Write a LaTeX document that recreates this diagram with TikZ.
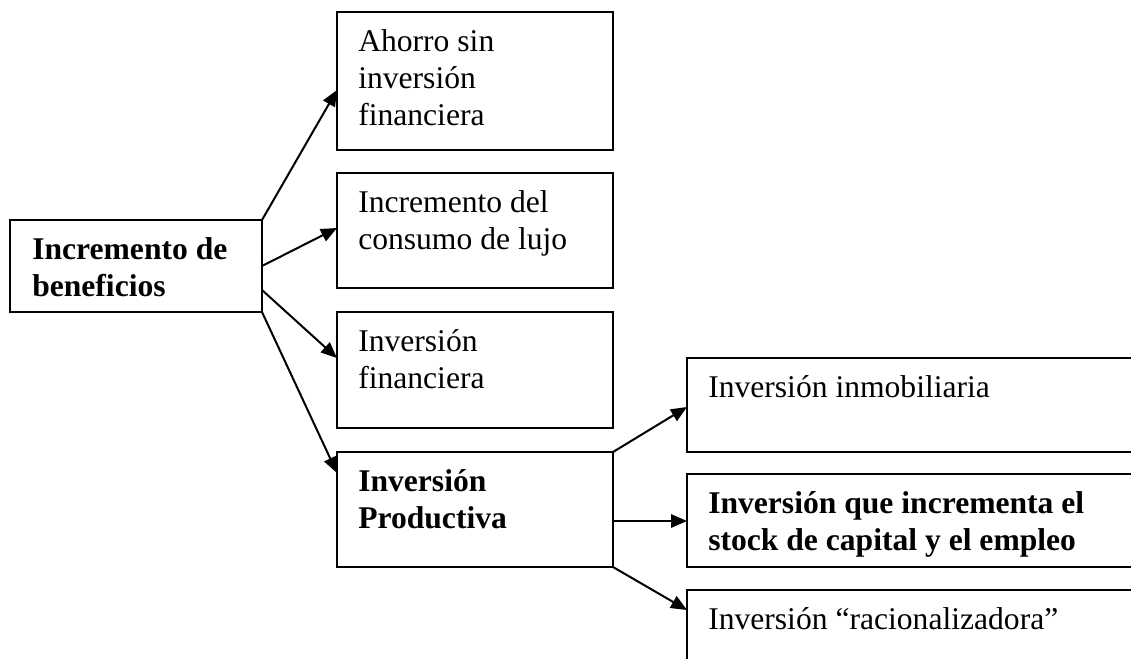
\documentclass[tikz,border=0pt]{standalone}
\usepackage{fontspec}
\setmainfont{Liberation Serif}
\usetikzlibrary{arrows.meta,calc}
\begin{document}
\begin{tikzpicture}[x=0.75pt,y=-0.75pt,
  box/.style={draw,line width=1.6pt,inner sep=0pt,outer sep=0pt,anchor=north west},
  txt/.style={anchor=north west,inner sep=0pt,align=left,font=\fontsize{23.7}{27.75}\selectfont},
  btxt/.style={txt,font=\fontsize{23.7}{27.75}\selectfont\bfseries},
  arr/.style={line width=1.5pt,-{Triangle[length=12pt,width=10pt]}}]
\useasboundingbox (0,0) rectangle (1131,658);
\clip (0,0) rectangle (1131,658);
% boxes
\node[box,minimum width=189pt,minimum height=69pt] (L) at (10,220) {};
\node[box,minimum width=207pt,minimum height=103.5pt] (b1) at (337,12) {};
\node[box,minimum width=207pt,minimum height=86.25pt] (b2) at (337,173) {};
\node[box,minimum width=207pt,minimum height=87pt] (b3) at (337,312) {};
\node[box,minimum width=207pt,minimum height=86.25pt] (b4) at (337,452) {};
\node[box,minimum width=343.5pt,minimum height=70.5pt] (r1) at (687,358) {};
\node[box,minimum width=343.5pt,minimum height=69.75pt] (r2) at (687,474) {};
\node[box,minimum width=343.5pt,minimum height=67.5pt] (r3) at (687,590) {};
% texts
\node[btxt] (tL) at ($(L.north west)+(22,17)$) {Incremento de\\beneficios};
\node[txt] (t1) at ($(b1.north west)+(21,17)$) {Ahorro sin\\inversión\\financiera};
\node[txt] (t2) at ($(b2.north west)+(21,17)$) {Incremento del\\consumo de lujo};
\node[txt] (t3) at ($(b3.north west)+(21,17)$) {Inversión\\financiera};
\node[btxt] (t4) at ($(b4.north west)+(21,17)$) {Inversión\\Productiva};
\node[txt] (tr1) at ($(r1.north west)+(21,17)$) {Inversión inmobiliaria};
\node[btxt] (tr2) at ($(r2.north west)+(21,17)$) {Inversión que incrementa el\\stock de capital y el empleo};
\node[txt] (tr3) at ($(r3.north west)+(21,17)$) {Inversión “racionalizadora”};
% connectors
\draw[arr] (L.north east) -- ($(b1.north west)+(0,78)$);
\draw[arr] ($(L.north east)+(0,46)$) -- ($(b2.north west)+(0,55)$);
\draw[arr] ($(L.north east)+(0,70)$) -- ($(b3.north west)+(0,46)$);
\draw[arr] (L.south east) -- ($(b4.north west)+(0,21)$);
\draw[arr] (b4.north east) -- ($(r1.north west)+(0,49)$);
\draw[arr] ($(b4.north east)+(0,69)$) -- ($(r2.north west)+(0,47)$);
\draw[arr] (b4.south east) -- ($(r3.north west)+(0,20)$);
\end{tikzpicture}
\end{document}
